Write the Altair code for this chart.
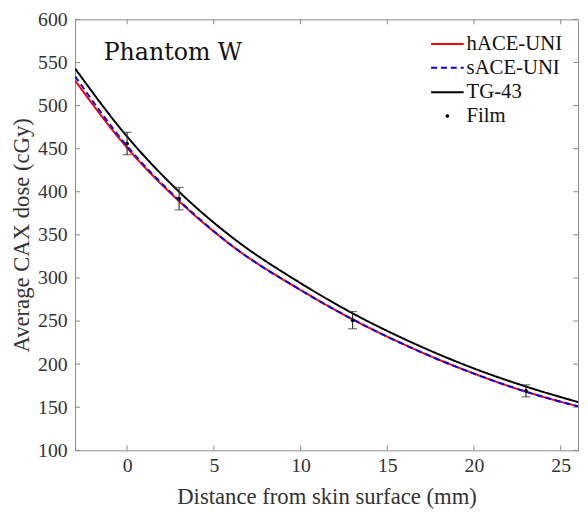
import altair as alt
import pandas as pd

# Curve sample positions (mm) and doses (cGy)
curve_x = [-3, 0, 3, 6, 10, 13, 16, 20, 23, 26]
hace_uni = [529, 451, 389, 338, 286, 252, 222.5, 189, 168, 151]
sace_uni = [534, 453, 390, 338, 286, 252, 222.5, 189, 168, 151]
tg43 = [543, 464, 400, 348, 294, 259, 229, 195, 174, 156]

# Film measurements
film_x = [0, 3, 13, 23]
film_y = [456, 392, 251, 169]
film_err = [13, 13, 10, 7]

x_ticks = [0, 5, 10, 15, 20, 25]
y_ticks = [100, 150, 200, 250, 300, 350, 400, 450, 500, 550, 600]

series_names = ["hACE-UNI", "sACE-UNI", "TG-43"]

W, H = 510, 437
SERIF = "Liberation Serif"

rows = []
for name, vals in zip(series_names, [hace_uni, sace_uni, tg43]):
    for xv, yv in zip(curve_x, vals):
        rows.append({"x": xv, "dose": yv, "series": name})
curves = pd.DataFrame(rows)

film = pd.DataFrame({
    "x": film_x,
    "dose": film_y,
    "lo": [v - e for v, e in zip(film_y, film_err)],
    "hi": [v + e for v, e in zip(film_y, film_err)],
})
xt = pd.DataFrame({"t": x_ticks})
yt = pd.DataFrame({"t": y_ticks})

xs = alt.Scale(domain=[-3, 26], nice=False, zero=False)
ys = alt.Scale(domain=[100, 600], nice=False, zero=False)

X = alt.X("x:Q", scale=xs, title="Distance from skin surface (mm)",
          axis=alt.Axis(values=x_ticks, labelPadding=5, titlePadding=11))
Y = alt.Y("dose:Q", scale=ys, title="Average CAX dose (cGy)",
          axis=alt.Axis(values=y_ticks, labelPadding=8, titlePadding=4))


def line(name, color, dash):
    return alt.Chart(curves).transform_filter(alt.datum.series == name).mark_line(
        color=color, strokeWidth=2, strokeDash=dash, interpolate="monotone", clip=True
    ).encode(x=X, y=Y)


red = line("hACE-UNI", "#ff0000", [1, 0])
blue = line("sACE-UNI", "#0000ff", [6, 4])
black = line("TG-43", "#000000", [1, 0])

err_rule = alt.Chart(film).mark_rule(color="#333333", strokeWidth=1.2).encode(
    x="x:Q", y="lo:Q", y2="hi:Q")
cap_lo = alt.Chart(film).mark_tick(color="#333333", orient="horizontal", size=9, thickness=1.2).encode(
    x="x:Q", y="lo:Q")
cap_hi = alt.Chart(film).mark_tick(color="#333333", orient="horizontal", size=9, thickness=1.2).encode(
    x="x:Q", y="hi:Q")
pts = alt.Chart(film).mark_circle(color="#000000", size=14, opacity=1).encode(x="x:Q", y="dose:Q")

tick_col = "#8a8a8a"
bx = alt.Chart(xt).mark_rule(color=tick_col).encode(x=alt.X("t:Q", scale=xs), y=alt.value(H), y2=alt.value(H - 5))
tx = alt.Chart(xt).mark_rule(color=tick_col).encode(x=alt.X("t:Q", scale=xs), y=alt.value(0), y2=alt.value(5))
ly = alt.Chart(yt).mark_rule(color=tick_col).encode(y=alt.Y("t:Q", scale=ys), x=alt.value(0), x2=alt.value(5))
ry = alt.Chart(yt).mark_rule(color=tick_col).encode(y=alt.Y("t:Q", scale=ys), x=alt.value(W), x2=alt.value(W - 5))

# Annotation
label = alt.Chart(pd.DataFrame({"t": ["Phantom W"]})).mark_text(
    font="DejaVu Serif", fontSize=24, align="left", baseline="alphabetic", color="#111111"
).encode(x=alt.value(29), y=alt.value(41), text="t:N")

# Manual legend
leg_names = ["hACE-UNI", "sACE-UNI", "TG-43", "Film"]
leg_y = [25, 49, 74, 98]
lx0, lx1, ltx = 361, 394, 397
leg = []
for name, yy, col, dash in zip(leg_names[:3], leg_y[:3], ["#ff0000", "#0000ff", "#000000"],
                               [[1, 0], [6, 4], [1, 0]]):
    leg.append(alt.Chart(pd.DataFrame({"n": [name]})).mark_rule(color=col, strokeWidth=2, strokeDash=dash).encode(
        x=alt.value(lx0), x2=alt.value(lx1), y=alt.value(yy)))
leg.append(alt.Chart(pd.DataFrame({"n": ["Film"]})).mark_circle(color="#000000", size=14, opacity=1).encode(
    x=alt.value((lx0 + lx1) / 2), y=alt.value(leg_y[3])))
leg.append(alt.Chart(pd.DataFrame({"n": leg_names, "yy": leg_y})).mark_text(
    font=SERIF, fontSize=21, align="left", baseline="middle", color="#111111"
).encode(x=alt.value(ltx), y=alt.Y("yy:Q", scale=None), text="n:N"))

chart = alt.layer(
    bx, tx, ly, ry, red, blue, black, err_rule, cap_lo, cap_hi, pts, label, *leg
).properties(
    width=W, height=H,
    autosize=alt.AutoSizeParams(type="none"),
    padding={"left": 68, "top": 8, "right": 2, "bottom": 60},
).configure_view(
    stroke="#8a8a8a", strokeWidth=1
).configure_axis(
    domain=False, ticks=False, grid=False,
    labelFont=SERIF, labelFontSize=20, labelColor="#333333",
    titleFont=SERIF, titleFontSize=23, titleFontWeight="normal", titleColor="#333333",
)

chart.save("out.html", embed_options={"renderer": "svg", "actions": False})
